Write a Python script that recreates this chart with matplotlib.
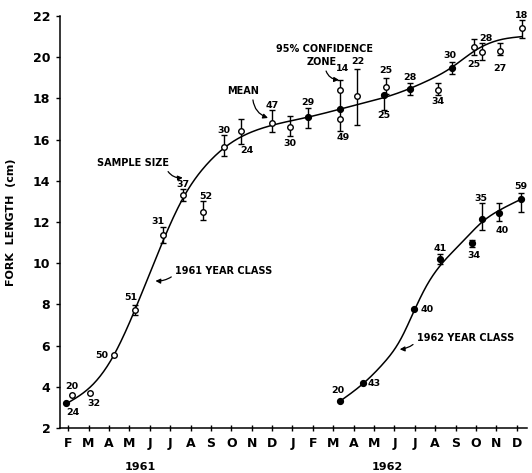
import numpy as np
import matplotlib
matplotlib.use("Agg")
import matplotlib.pyplot as plt

# month index: 1 = Feb 1961 ... 23 = Dec 1962
month_labels = ["F", "M", "A", "M", "J", "J", "A", "S", "O", "N", "D",
                "J", "F", "M", "A", "M", "J", "J", "A", "S", "O", "N", "D"]
y_ticks = [2, 4, 6, 8, 10, 12, 14, 16, 18, 20, 22]

# 1961 year class samples
months_61 = [0.9, 1.2, 2.08, 3.25, 4.28, 5.66, 6.64, 7.62, 8.65, 9.48, 10.98, 11.88, 12.76,
             14.33, 14.33, 14.33, 15.17, 16.6, 16.5, 17.76, 19.14, 19.82, 20.9, 21.29, 22.18, 23.25]
mean_61 = [3.21, 3.6, 3.68, 5.54, 7.73, 11.35, 13.3, 12.5, 15.66, 16.43, 16.82, 16.63, 17.08,
           18.41, 17.5, 17.0, 18.12, 18.57, 18.17, 18.44, 18.41, 19.46, 20.48, 20.25, 20.3, 21.4]
low_61 = [np.nan, np.nan, np.nan, np.nan, 7.5, 11.0, 13.0, 12.1, 15.2, 15.8, 16.35, 16.17, 16.56,
          17.5, np.nan, 16.4, 16.71, 18.2, 17.44, 18.15, 18.15, 19.2, 20.1, 19.86, 20.1, 20.93]
high_61 = [np.nan, np.nan, np.nan, np.nan, 7.95, 11.75, 13.6, 13.0, 16.2, 17.0, 17.45, 17.15, 17.53,
           18.9, np.nan, 17.5, 19.43, 18.98, 18.2, 18.75, 18.75, 19.77, 20.88, 20.69, 20.69, 21.8]
n_61 = ["24", "20", "32", "50", "51", "31", "37", "52", "30", "24", "47", "30", "29",
        "14", "", "49", "22", "25", "25", "28", "34", "30", "25", "28", "27", "18"]
filled_61 = [True, False, False, False, False, False, False, False, False, False, False, False, True,
             False, True, False, False, False, True, True, False, True, False, False, False, False]

# fitted growth curve, 1961 year class
curve_61_x = [0.95, 2.2, 3.22, 4.28, 5.45, 6.6, 7.8, 9.0, 10.5, 12.8, 15.0, 17.0, 18.5,
              19.8, 21.0, 22.2, 23.25]
curve_61_y = [3.2, 4.1, 5.5, 7.75, 10.6, 13.1, 14.8, 15.85, 16.55, 17.1, 17.65, 18.2, 18.8,
              19.5, 20.35, 20.85, 21.0]

# 1962 year class samples
months_62 = [14.33, 15.48, 17.98, 19.24, 20.82, 21.28, 22.13, 23.2]
mean_62 = [3.33, 4.17, 7.76, 10.19, 10.97, 12.13, 12.42, 13.1]
low_62 = [np.nan, np.nan, np.nan, 9.95, 10.8, 11.6, 12.06, 12.5]
high_62 = [np.nan, np.nan, np.nan, 10.45, 11.15, 12.9, 12.94, 13.4]
n_62 = ["20", "43", "40", "41", "34", "35", "40", "59"]

curve_62_x = [14.33, 15.48, 16.46, 17.3, 18.0, 18.6, 19.3, 20.3, 21.3, 22.2, 23.2]
curve_62_y = [3.3, 4.17, 5.14, 6.3, 7.76, 8.95, 9.95, 11.0, 12.0, 12.6, 13.1]

# label offsets in pixels (dx, dy)
offsets_61 = [(7, -9), (0, 9), (4, -10), (-12, 0), (-4, 12), (-5, 14), (0, 11), (3, 15),
              (0, 16), (6, -20), (1, 17), (0, -17), (0, 15), (3, 21), (0, 0), (3, -19),
              (1, 34), (0, 16), (0, -21), (0, 12), (0, -12), (-2, 13), (0, -17), (4, 14),
              (0, -17), (0, 13)]
offsets_62 = [(-2, 10), (11, 0), (13, 0), (0, 11), (2, -12), (-1, 21), (3, -17), (0, 13)]


def spline(xs, ys, n=400):
    # natural cubic spline through the curve knots
    x = np.asarray(xs, dtype=float)
    y = np.asarray(ys, dtype=float)
    h = np.diff(x)
    k = len(x)
    a = np.zeros((k, k))
    r = np.zeros(k)
    a[0, 0] = a[-1, -1] = 1
    for i in range(1, k - 1):
        a[i, i - 1] = h[i - 1]
        a[i, i] = 2 * (h[i - 1] + h[i])
        a[i, i + 1] = h[i]
        r[i] = 6 * ((y[i + 1] - y[i]) / h[i] - (y[i] - y[i - 1]) / h[i - 1])
    m = np.linalg.solve(a, r)
    xx = np.linspace(x[0], x[-1], n)
    idx = np.clip(np.searchsorted(x, xx) - 1, 0, k - 2)
    x0, x1 = x[idx], x[idx + 1]
    hh = x1 - x0
    t0, t1 = xx - x0, x1 - xx
    yy = (m[idx] * t1 ** 3 / (6 * hh) + m[idx + 1] * t0 ** 3 / (6 * hh)
          + (y[idx] / hh - m[idx] * hh / 6) * t1 + (y[idx + 1] / hh - m[idx + 1] * hh / 6) * t0)
    return xx, yy


def draw_points(ax, xs, means, lows, highs, labels, filled, offsets):
    for x, m, lo, hi, lab, f, off in zip(xs, means, lows, highs, labels, filled, offsets):
        if not np.isnan(lo):
            ax.errorbar([x], [m], yerr=[[m - lo], [hi - m]], fmt="none", ecolor="black",
                        elinewidth=1.0, capsize=2.2, capthick=1.0, zorder=3)
        ax.plot([x], [m], marker="o", markersize=4.2 if f else 4.0,
                markerfacecolor="black" if f else "white", markeredgecolor="black",
                markeredgewidth=1.0, linestyle="none", zorder=4)
        if lab:
            ax.annotate(lab, (x, m), xytext=off, textcoords="offset pixels",
                        ha="center", va="center", fontsize=6.8, fontweight="bold")


plt.rcParams["font.family"] = "DejaVu Sans"
fig = plt.figure(figsize=(5.32, 4.73), dpi=100)
ax = fig.add_axes([60 / 532, 1 - 428 / 473, 467 / 532, 412 / 473])

cx, cy = spline(curve_61_x, curve_61_y)
ax.plot(cx, cy, color="black", linewidth=1.1, zorder=2)
cx, cy = spline(curve_62_x, curve_62_y)
ax.plot(cx, cy, color="black", linewidth=1.1, zorder=2)

draw_points(ax, months_61, mean_61, low_61, high_61, n_61, filled_61, offsets_61)
draw_points(ax, months_62, mean_62, low_62, high_62, n_62, [True] * len(months_62), offsets_62)

ax.set_xlim(0.6, 23.5)
ax.set_ylim(2, 22)
ax.set_xticks(range(1, 24))
ax.set_xticklabels(month_labels, fontsize=9, fontweight="bold")
ax.set_yticks(y_ticks)
ax.set_yticklabels([str(v) for v in y_ticks], fontsize=9, fontweight="bold")
ax.tick_params(axis="x", direction="inout", length=5, width=1, pad=4)
ax.tick_params(axis="y", direction="out", length=3, width=1, pad=4)
for side in ["top", "right"]:
    ax.spines[side].set_visible(False)
for side in ["left", "bottom"]:
    ax.spines[side].set_linewidth(1.1)

ax.set_ylabel("FORK  LENGTH  (cm)", fontsize=8, fontweight="bold", labelpad=12)

arrow = dict(arrowstyle="-|>", color="black", linewidth=0.9, mutation_scale=7,
             shrinkA=1, shrinkB=0)
ax.annotate("SAMPLE SIZE", xy=(6.62, 14.15), xytext=(4.2, 14.88), fontsize=7, fontweight="bold",
            ha="center", va="center",
            arrowprops=dict(arrow, connectionstyle="arc3,rad=0.35", relpos=(0.95, 0.0)))
ax.annotate("MEAN", xy=(10.8, 17.05), xytext=(9.58, 18.37), fontsize=7, fontweight="bold",
            ha="center", va="center",
            arrowprops=dict(arrow, connectionstyle="arc3,rad=0.35", relpos=(0.8, 0.0)))
ax.text(13.55, 20.4, "95% CONFIDENCE", fontsize=7, fontweight="bold", ha="center", va="center")
ax.annotate("ZONE", xy=(14.28, 18.9), xytext=(13.45, 19.77), fontsize=7, fontweight="bold",
            ha="center", va="center",
            arrowprops=dict(arrow, connectionstyle="arc3,rad=0.4", relpos=(0.6, 0.0)))
ax.annotate("1961 YEAR CLASS", xy=(5.28, 9.14), xytext=(6.25, 9.62), fontsize=7,
            fontweight="bold", ha="left", va="center",
            arrowprops=dict(arrow, connectionstyle="arc3,rad=-0.2", relpos=(0.0, 0.2)))
ax.annotate("1962 YEAR CLASS", xy=(17.26, 5.82), xytext=(18.1, 6.37), fontsize=7,
            fontweight="bold", ha="left", va="center",
            arrowprops=dict(arrow, connectionstyle="arc3,rad=-0.2", relpos=(0.0, 0.2)))

fig.text(140 / 532, 1 - 467 / 473, "1961", fontsize=8, fontweight="bold", ha="center", va="center")
fig.text(387 / 532, 1 - 467 / 473, "1962", fontsize=8, fontweight="bold", ha="center", va="center")

fig.savefig("out.png", dpi=100)
